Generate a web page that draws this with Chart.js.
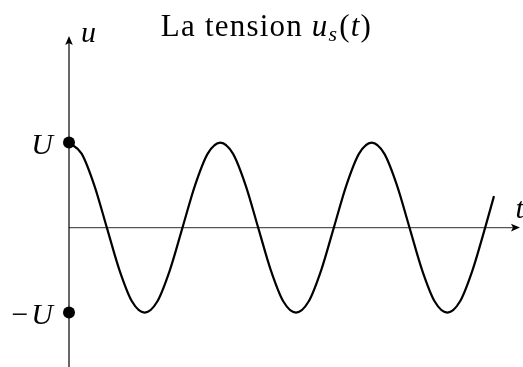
<!DOCTYPE html>
<html>
<head>
<meta charset="utf-8">
<script src="https://cdn.jsdelivr.net/npm/chart.js@4"></script>
<style>
html,body{margin:0;padding:0;background:#fff;}
canvas{display:block;}
</style>
</head>
<body>
<canvas id="c" width="523" height="367"></canvas>
<script>
// time samples (1 unit = 1/12 of a period) and the tension (in units of U)
const tValues = [0,1,2,3,4,5,6,7,8,9,10,11,12,13,14,15,16,17,18,19,20,21,22,23,24,25,26,27,28,29,30,31,32,33,33.7];
const uValues = [1,0.87,0.5,0,-0.5,-0.87,-1,-0.87,-0.5,0,0.5,0.87,1,0.87,0.5,0,-0.5,-0.87,-1,-0.87,-0.5,0,0.5,0.87,1,0.87,0.5,0,-0.5,-0.87,-1,-0.87,-0.5,0,0.37];
// marked levels on the u axis
const levelValues = [1, -1];
const levelLabels = ['U', '\u2212U'];
const titleText = 'La tension ';
const axisLabels = {x: 't', y: 'u'};

const SERIF = '"Liberation Serif", "DejaVu Serif", serif';

const curve = tValues.map((t, i) => ({x: t, y: uValues[i]}));
const dots = levelValues.map(v => ({x: 0, y: v}));

const drawPlugin = {
  id: 'physAxes',
  beforeDatasetsDraw(chart) {
    const ctx = chart.ctx;
    const xs = chart.scales.x, ys = chart.scales.y;
    const x0 = xs.getPixelForValue(0), y0 = ys.getPixelForValue(0);
    const xEnd = xs.getPixelForValue(35.76);
    const yTop = ys.getPixelForValue(2.253);
    const yBot = ys.getPixelForValue(-1.64);
    ctx.save();
    // horizontal axis
    ctx.strokeStyle = '#555';
    ctx.lineWidth = 1.4;
    ctx.beginPath();
    ctx.moveTo(x0, y0);
    ctx.lineTo(xEnd - 6, y0);
    ctx.stroke();
    ctx.fillStyle = '#000';
    ctx.beginPath();
    ctx.moveTo(xEnd, y0);
    ctx.lineTo(xEnd - 9, y0 - 3.8);
    ctx.lineTo(xEnd - 7, y0);
    ctx.lineTo(xEnd - 9, y0 + 3.8);
    ctx.closePath();
    ctx.fill();
    // vertical axis
    ctx.strokeStyle = '#000';
    ctx.lineWidth = 1.2;
    ctx.beginPath();
    ctx.moveTo(x0, yBot);
    ctx.lineTo(x0, yTop + 6);
    ctx.stroke();
    ctx.beginPath();
    ctx.moveTo(x0, yTop);
    ctx.lineTo(x0 - 3.8, yTop + 9);
    ctx.lineTo(x0, yTop + 7);
    ctx.lineTo(x0 + 3.8, yTop + 9);
    ctx.closePath();
    ctx.fill();
    ctx.restore();
  },
  afterDraw(chart) {
    const ctx = chart.ctx;
    const xs = chart.scales.x, ys = chart.scales.y;
    const x0 = xs.getPixelForValue(0), y0 = ys.getPixelForValue(0);
    ctx.save();
    ctx.fillStyle = '#000';
    ctx.textBaseline = 'alphabetic';
    // level labels
    ctx.font = 'italic 30px ' + SERIF;
    ctx.textAlign = 'right';
    levelValues.forEach((v, i) => {
      const y = ys.getPixelForValue(v);
      const lab = levelLabels[i];
      if (lab.startsWith('\u2212')) {
        const w = ctx.measureText('U').width;
        ctx.fillText('U', x0 - 16, y + 11);
        ctx.font = '30px ' + SERIF;
        ctx.fillText('\u2212', x0 - 19 - w, y + 11);
        ctx.font = 'italic 30px ' + SERIF;
      } else {
        ctx.fillText(lab, x0 - 16, y + 11);
      }
    });
    // axis labels
    ctx.textAlign = 'left';
    ctx.font = 'italic 30px ' + SERIF;
    ctx.fillText(axisLabels.y, x0 + 12, 42);
    ctx.fillText(axisLabels.x, xs.getPixelForValue(35.4), y0 - 10);
    // title: La tension u_s(t)
    const parts = [
      {t: titleText, f: '31px ' + SERIF, dy: 0},
      {t: 'u', f: 'italic 31px ' + SERIF, dy: 0},
      {t: 's', f: 'italic 22px ' + SERIF, dy: 5},
      {t: '(', f: '31px ' + SERIF, dy: 0},
      {t: 't', f: 'italic 31px ' + SERIF, dy: 0},
      {t: ')', f: '31px ' + SERIF, dy: 0}
    ];
    ctx.letterSpacing = '1.2px';
    let total = 0;
    parts.forEach(p => { ctx.font = p.f; p.w = ctx.measureText(p.t).width; total += p.w; });
    let x = 266 - total / 2;
    const base = 36;
    parts.forEach(p => { ctx.font = p.f; ctx.fillText(p.t, x, base + p.dy); x += p.w + (p.t === 's' ? 1 : 0); });
    ctx.restore();
  }
};

new Chart(document.getElementById('c'), {
  type: 'scatter',
  data: {
    datasets: [
      {
        data: curve,
        showLine: true,
        borderColor: '#000',
        borderWidth: 2.2,
        pointRadius: 0,
        cubicInterpolationMode: 'monotone',
        fill: false,
        clip: false
      },
      {
        data: dots,
        showLine: false,
        pointRadius: 6,
        pointBackgroundColor: '#000',
        pointBorderColor: '#000',
        pointBorderWidth: 0,
        clip: false
      }
    ]
  },
  options: {
    responsive: false,
    animation: false,
    layout: {autoPadding: false, padding: {left: 69, right: 0, top: 38, bottom: 0}},
    plugins: {legend: {display: false}, tooltip: {enabled: false}, title: {display: false}},
    scales: {
      x: {type: 'linear', min: 0, max: 36, display: false},
      y: {type: 'linear', min: -1.64, max: 2.23, display: false}
    }
  },
  plugins: [drawPlugin]
});
</script>
</body>
</html>
